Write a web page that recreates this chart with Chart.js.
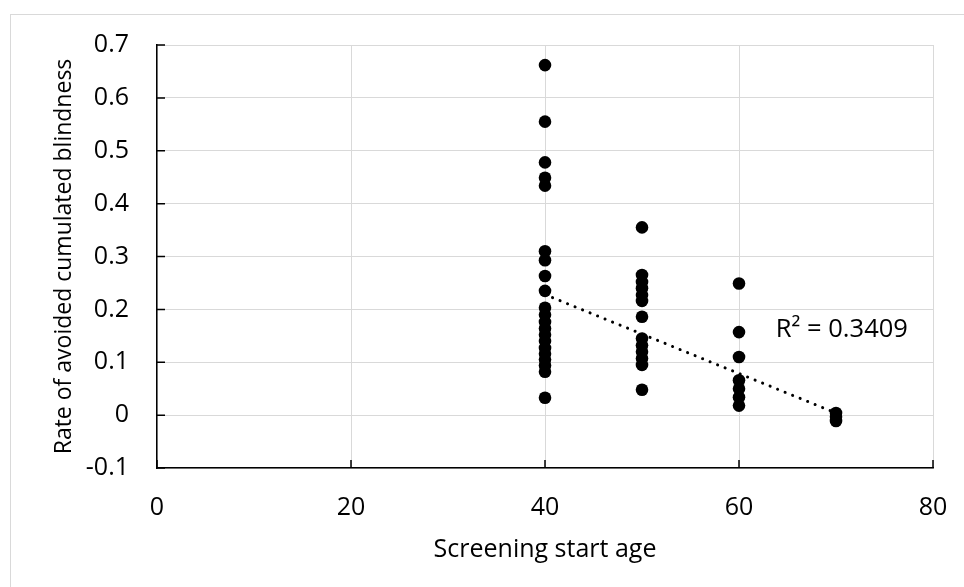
<!DOCTYPE html>
<html>
<head>
<meta charset="utf-8">
<script src="https://cdn.jsdelivr.net/npm/chart.js@4.4.0/dist/chart.umd.min.js"></script>
<style>
  html, body { margin: 0; padding: 0; background: #fff; overflow: hidden; }
  #wrap { position: relative; width: 964px; height: 587px; overflow: hidden; }
  #frame { position: absolute; left: 10px; top: 14px; width: 1000px; height: 700px; border: 1px solid #d9d9d9; }
  #chart { position: absolute; left: 0; top: 0; }
</style>
</head>
<body>
<div id="wrap">
  <div id="frame"></div>
  <canvas id="chart" width="964" height="587"></canvas>
</div>
<script>
// values
var startAges = [40, 50, 60, 70];
var ratesAt40 = [0.662, 0.555, 0.478, 0.449, 0.434, 0.310, 0.293, 0.263, 0.235, 0.203, 0.190, 0.176,
                 0.164, 0.152, 0.140, 0.127, 0.116, 0.105, 0.094, 0.082, 0.033];
var ratesAt50 = [0.355, 0.265, 0.252, 0.240, 0.227, 0.216, 0.186, 0.145, 0.132, 0.120, 0.107,
                 0.095, 0.048];
var ratesAt60 = [0.249, 0.157, 0.110, 0.066, 0.050, 0.034, 0.018];
var ratesAt70 = [0.004, -0.003, -0.011];

var trendAges = [40, 70];
var trendRates = [0.228, 0.004];
var r2Text = 'R\u00B2 = 0.3409';

var xTicks = [0, 20, 40, 60, 80];
var yTicks = [-0.1, 0, 0.1, 0.2, 0.3, 0.4, 0.5, 0.6, 0.7];

var xTitle = 'Screening start age';
var yTitle = 'Rate of avoided cumulated blindness';

var FONT = "'Open Sans', sans-serif";

var points = [];
[ratesAt40, ratesAt50, ratesAt60, ratesAt70].forEach(function(list, i){
  list.forEach(function(v){ points.push({x: startAges[i], y: v}); });
});
var trend = trendAges.map(function(a, i){ return {x: a, y: trendRates[i]}; });

// excel style inside tick marks plus the R² label
var excelBits = {
  id: 'excelBits',
  beforeDatasetsDraw: function(chart){
    var ctx = chart.ctx, xs = chart.scales.x, ys = chart.scales.y, a = chart.chartArea;
    ctx.save();
    ctx.strokeStyle = '#000';
    ctx.lineWidth = 1.5;
    ctx.beginPath();
    yTicks.forEach(function(v){
      var p = ys.getPixelForValue(v);
      ctx.moveTo(a.left, p); ctx.lineTo(a.left + 8, p);
    });
    xTicks.forEach(function(v){
      var p = xs.getPixelForValue(v);
      ctx.moveTo(p, a.bottom); ctx.lineTo(p, a.bottom - 8);
    });
    ctx.stroke();
    ctx.restore();
  },
  afterDatasetsDraw: function(chart){
    var ctx = chart.ctx, xs = chart.scales.x, ys = chart.scales.y;
    ctx.save();
    ctx.fillStyle = '#000';
    ctx.font = '25.5px ' + FONT;
    ctx.textAlign = 'left';
    ctx.textBaseline = 'alphabetic';
    ctx.fillText(r2Text, xs.getPixelForValue(63.8), ys.getPixelForValue(0.148));
    ctx.restore();
  }
};

new Chart(document.getElementById('chart'), {
  type: 'scatter',
  data: {
    datasets: [
      {
        data: trend,
        type: 'line',
        showLine: true,
        borderColor: '#000',
        borderWidth: 3,
        borderDash: [0.1, 8],
        borderCapStyle: 'round',
        pointRadius: 0,
        fill: false,
        order: 0
      },
      {
        data: points,
        backgroundColor: '#000',
        borderWidth: 0,
        pointRadius: 6.3,
        order: 1
      }
    ]
  },
  options: {
    responsive: false,
    animation: false,
    layout: { padding: { top: 45, right: 31, left: 0, bottom: 0 } },
    plugins: { legend: { display: false }, tooltip: { enabled: false } },
    scales: {
      x: {
        type: 'linear',
        min: 0, max: 80,
        afterBuildTicks: function(s){ s.ticks = xTicks.map(function(v){ return {value: v}; }); },
        afterFit: function(s){ s.height = 119; s.paddingLeft = 0; s.paddingRight = 0; },
        grid: { color: '#d9d9d9', lineWidth: 1, drawTicks: false },
        border: { display: true, color: '#000', width: 1.5 },
        ticks: { color: '#000', padding: 25, font: { family: FONT, size: 25 } },
        title: { display: true, text: xTitle, color: '#000', padding: { top: 0, bottom: 22 },
                 font: { family: FONT, size: 25 } }
      },
      y: {
        type: 'linear',
        min: -0.1, max: 0.7,
        afterBuildTicks: function(s){ s.ticks = yTicks.map(function(v){ return {value: v}; }); },
        afterFit: function(s){ s.width = 157; s.paddingTop = 0; s.paddingBottom = 0; },
        grid: { color: '#d9d9d9', lineWidth: 1, drawTicks: false },
        border: { display: true, color: '#000', width: 1.5 },
        ticks: {
          color: '#000', padding: 28, font: { family: FONT, size: 25 },
          callback: function(v){ return String(Number(v.toFixed(1))); }
        },
        title: { display: true, text: yTitle, color: '#000', padding: { top: 51, bottom: 0 },
                 font: { family: FONT, size: 23 } }
      }
    }
  },
  plugins: [excelBits]
});
</script>
</body>
</html>
